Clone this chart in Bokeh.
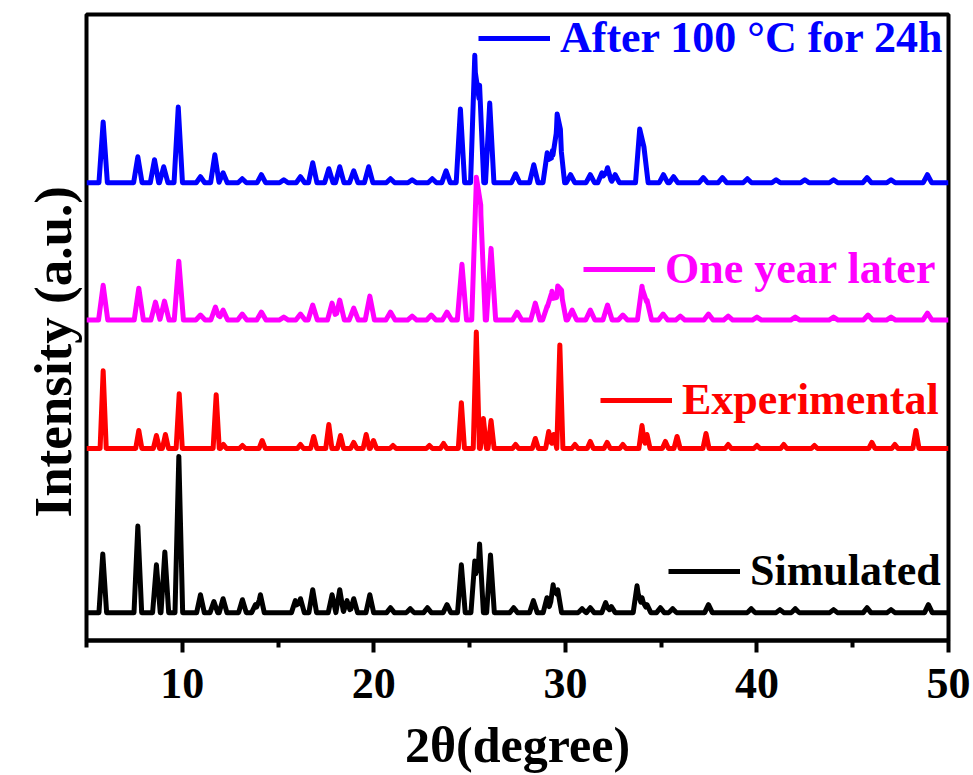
import numpy as np
from bokeh.plotting import figure
from bokeh.models import Range1d, FixedTicker, Legend, LegendItem, Title
from bokeh.embed import file_html
from bokeh.resources import INLINE

# ---------------- data ----------------
series_names = ["Simulated", "Experimental", "One year later", "After 100 °C for 24h"]
series_colors = ["#000000", "#FF0000", "#FF00FF", "#0000FF"]
series_offsets = [28, 193, 322, 460]          # vertical stacking offset (a.u.)

sim_pos = [5.85, 7.68, 8.65, 9.09, 9.82, 10.95, 11.65, 12.13, 13.14, 13.82, 14.08, 15.9, 16.17,
           16.81, 17.82, 18.22, 18.6, 18.95, 19.79, 20.87, 21.9, 22.8, 23.82, 24.57, 25.27, 25.52,
           26.09, 27.3, 28.33, 29.04, 29.36, 29.6, 30.87, 31.3, 32.1, 32.4, 33.74, 34.0, 34.26,
           34.96, 35.6, 37.47, 39.7, 41.2, 42.0, 44.0, 45.75, 47.0, 48.95]
sim_int = [59, 87, 48, 61, 157, 18, 11, 14, 13, 8, 18, 12, 14,
           23, 18, 23, 12, 14, 18, 5, 4, 5, 8, 48, 52, 69,
           58, 5, 12, 15, 28, 23, 4, 5, 10, 6, 27, 15, 8,
           5, 4, 8, 4, 3, 4, 3, 5, 3, 8]

exp_pos = [5.87, 7.73, 8.65, 9.12, 9.84, 11.77, 12.15, 13.14, 14.17, 16.17, 16.86, 17.65, 18.26,
           18.95, 19.6, 19.98, 21.0, 22.9, 23.64, 24.57, 25.35, 25.72, 26.12, 27.4, 28.43, 29.13,
           29.39, 29.71, 30.5, 31.3, 32.18, 33.0, 34.0, 34.26, 35.22, 35.83, 37.34, 38.5, 40.0,
           41.4, 43.0, 46.0, 47.2, 48.3]
exp_int = [78, 18, 13, 14, 55, 54, 4, 3, 8, 4, 12, 24, 13,
           6, 14, 8, 3, 3, 5, 46, 117, 30, 28, 4, 10, 17,
           14, 104, 4, 7, 6, 4, 23, 14, 7, 12, 15, 4, 3,
           4, 3, 6, 4, 18]

year_pos = [5.87, 7.73, 8.6, 9.07, 9.82, 10.95, 11.73, 12.13, 13.13, 14.13, 15.3, 16.17, 16.81,
            17.82, 18.22, 18.95, 19.79, 20.87, 22.0, 23.0, 23.82, 24.6, 25.35, 25.58, 26.12, 27.48,
            28.43, 29.05, 29.3, 29.6, 29.8, 30.35, 31.3, 32.2, 33.0, 34.0, 34.26, 35.1, 36.0,
            37.47, 38.5, 40.0, 42.0, 44.0, 45.8, 47.0, 48.9]
year_int = [35, 32, 18, 19, 59, 5, 13, 10, 6, 8, 3, 6, 15,
            17, 20, 12, 24, 8, 4, 5, 8, 56, 139, 110, 72, 8,
            17, 14, 29, 30, 25, 10, 10, 15, 5, 34, 20, 6, 4,
            6, 4, 3, 3, 3, 5, 3, 7]

heat_pos = [5.87, 7.68, 8.55, 9.03, 9.79, 10.95, 11.7, 12.13, 13.13, 14.13, 15.3, 16.17, 16.81,
            17.65, 18.22, 18.95, 19.73, 20.87, 22.0, 23.05, 23.77, 24.52, 25.27, 25.52, 26.05, 27.4,
            28.35, 29.05, 29.32, 29.57, 29.74, 30.27, 31.3, 31.91, 32.2, 32.6, 33.88, 34.1, 35.12,
            35.65, 37.2, 38.2, 39.5, 41.0, 42.5, 44.0, 45.75, 47.0, 48.9]
heat_int = [61, 26, 23, 16, 76, 6, 28, 10, 4, 8, 3, 6, 20,
            14, 16, 12, 16, 4, 3, 4, 12, 74, 128, 98, 80, 9,
            18, 30, 32, 60, 40, 8, 8, 10, 15, 8, 54, 36, 8,
            6, 5, 5, 4, 3, 3, 3, 5, 3, 8]

x_ticks = [10, 20, 30, 40, 50]
x_minor_ticks = [5, 15, 25, 35, 45]

peak_tables = [(sim_pos, sim_int), (exp_pos, exp_int), (year_pos, year_int), (heat_pos, heat_int)]
peak_half_widths = [0.2, 0.16, 0.24, 0.22]


def pattern(pos, inten, base, w):
    pos = np.asarray(pos, float)
    inten = np.asarray(inten, float)
    xs = np.unique(np.concatenate([[5.0, 50.0], pos - w, pos, pos + w]))
    xs = xs[(xs >= 5.0) & (xs <= 50.0)]
    contrib = np.clip(1.0 - np.abs(xs[:, None] - pos[None, :]) / w, 0.0, None) * inten[None, :]
    return xs, base + contrib.sum(axis=1)


FONT = "Liberation Serif"

p = figure(width=973, height=775, output_backend="svg", toolbar_location=None,
           x_range=Range1d(5, 50), y_range=Range1d(0, 629),
           min_border_left=86, min_border_right=25, min_border_top=14, min_border_bottom=132)
p.grid.visible = False
p.outline_line_color = "black"
p.outline_line_width = 4
p.background_fill_color = "white"
p.border_fill_color = "white"

# x axis
xa = p.xaxis[0]
xa.ticker = FixedTicker(ticks=x_ticks, minor_ticks=x_minor_ticks)
xa.axis_line_width = 4
xa.major_tick_line_width = 4
xa.minor_tick_line_width = 4
xa.major_tick_in = 0
xa.major_tick_out = 12
xa.minor_tick_in = 0
xa.minor_tick_out = 7
xa.major_label_text_font = FONT
xa.major_label_text_font_style = "bold"
xa.major_label_text_font_size = "44px"
xa.major_label_text_color = "black"
xa.major_label_standoff = 16
xa.axis_label = "2θ(degree)"
xa.axis_label_text_font = FONT
xa.axis_label_text_font_style = "bold"
xa.axis_label_text_font_size = "50px"
xa.axis_label_text_color = "black"
xa.axis_label_standoff = 16

# y axis: hidden; its title is a side title so it can be shifted like the reference
p.yaxis.visible = False
p.add_layout(Title(text="Intensity (a.u.)", align="left", offset=123, standoff=10,
                   vertical_align="bottom",
                   text_font=FONT, text_font_style="bold", text_font_size="53px",
                   text_color="black"), "left")

legend_locs = [(582, 44), (514, 215), (497, 346), (392, 577)]

for (pos, inten), base, w, name, color, loc in zip(peak_tables, series_offsets, peak_half_widths,
                                                    series_names, series_colors, legend_locs):
    xs, ys = pattern(pos, inten, base, w)
    r = p.line(xs, ys, line_color=color, line_width=5, line_join="round")
    leg = Legend(items=[LegendItem(label=name, renderers=[r])], location=loc,
                 label_text_font=FONT, label_text_font_style="bold",
                 label_text_font_size="44px", label_text_color=color,
                 glyph_width=72, glyph_height=20, label_standoff=10,
                 padding=0, margin=0, spacing=0,
                 background_fill_alpha=0, border_line_color=None)
    p.add_layout(leg)

open("out.html", "w").write(file_html(p, INLINE))
